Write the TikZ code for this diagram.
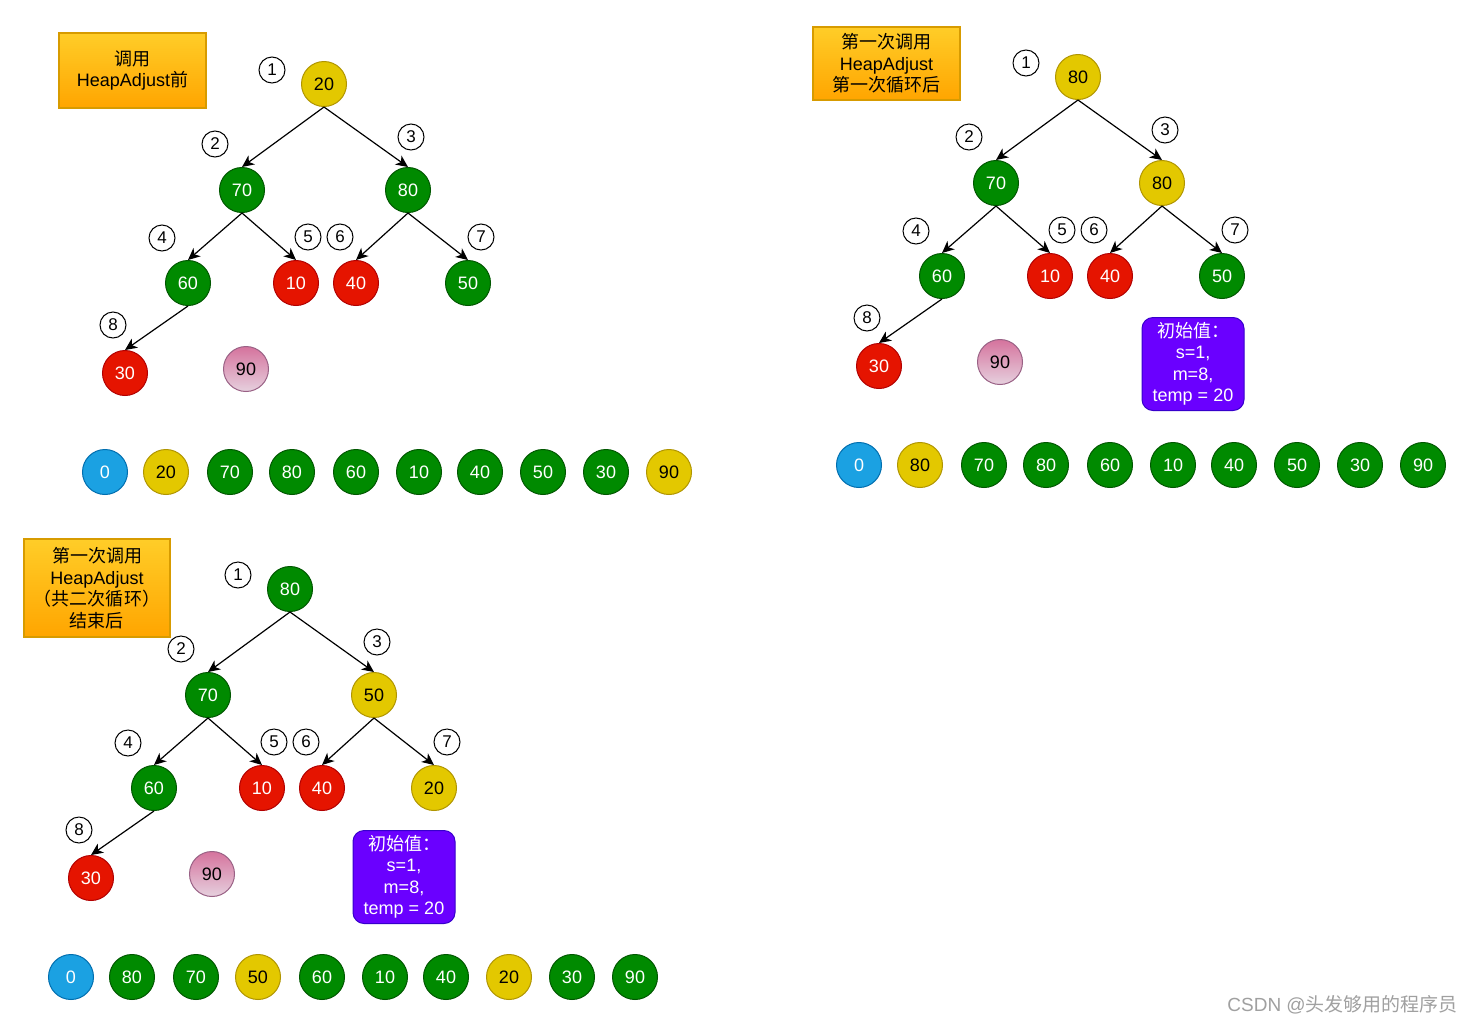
\documentclass[tikz,border=0pt]{standalone}
\usepackage{fontspec}
\setmainfont{Liberation Sans}
\newfontfamily\cjk{Noto Sans CJK SC}
\usetikzlibrary{arrows.meta,shapes.geometric}
\definecolor{dgreen}{HTML}{008A00}\definecolor{dgreenS}{HTML}{005700}
\definecolor{dred}{HTML}{E51400}\definecolor{dredS}{HTML}{B20000}
\definecolor{dyel}{HTML}{E3C800}\definecolor{dyelS}{HTML}{B09500}
\definecolor{dblue}{HTML}{1BA1E2}\definecolor{dblueS}{HTML}{006EAF}
\definecolor{pinkT}{HTML}{D5739D}\definecolor{pinkB}{HTML}{E6D0DE}\definecolor{pinkS}{HTML}{996185}
\definecolor{orT}{HTML}{FFCD28}\definecolor{orB}{HTML}{FFA500}\definecolor{orS}{HTML}{D79B00}
\definecolor{purp}{HTML}{6A00FF}\definecolor{purS}{HTML}{3700CC}
\definecolor{wmgray}{HTML}{A0A0A0}
\tikzset{
  bn/.style={circle, minimum size=45pt, inner sep=0pt, line width=1pt, font=\fontsize{18}{18}\selectfont},
  gr/.style={bn, fill=dgreen, draw=dgreenS, text=white},
  rd/.style={bn, fill=dred, draw=dredS, text=white},
  yl/.style={bn, fill=dyel, draw=dyelS, text=black},
  bl/.style={bn, fill=dblue, draw=dblueS, text=white},
  pk/.style={bn, top color=pinkT, bottom color=pinkB, draw=pinkS, text=black},
  num/.style={circle, draw=black, line width=1pt, minimum size=26pt, inner sep=0pt, font=\fontsize{17}{17}\selectfont},
  edge/.style={-{Stealth[length=12pt,width=11pt,inset=3.5pt]}, line width=1.2pt},
  lbl/.style={rectangle, top color=orT, bottom color=orB, draw=orS, line width=1.3pt, align=center, inner sep=0pt, font=\fontsize{18}{21.5}\selectfont},
  pur/.style={rectangle, rounded corners=11pt, fill=purp, draw=purS, line width=1pt, text=white, align=center, inner sep=0pt, font=\fontsize{18}{21.5}\selectfont},
}
\begin{document}
\begin{tikzpicture}[x=1pt,y=-1pt]
\useasboundingbox (0,0) rectangle (1473,1023);
\fill[white] (0,0) rectangle (1473,1023);

% ---------------- Panel A ----------------
\begin{scope}[name prefix=A-]
\node[lbl, minimum width=147pt, minimum height=75pt] (box) at (132.5,70.5) {{\cjk 调用}\\HeapAdjust{\cjk 前}};
\node[yl] (r) at (324,84) {20};
\node[gr] (L) at (242,190) {70};
\node[gr] (R) at (408,190) {80};
\node[gr] (LL) at (188,283) {60};
\node[rd] (LR) at (296,283) {10};
\node[rd] (RL) at (356,283) {40};
\node[gr] (RR) at (468,283) {50};
\node[rd] (LLL) at (125,373) {30};
\node[pk] (x) at (246,369) {90};
\node[num] (k1) at (272,70) {1};
\node[num] (k2) at (215,144) {2};
\node[num] (k3) at (411,137) {3};
\node[num] (k4) at (162,238) {4};
\node[num] (k5) at (308,237) {5};
\node[num] (k6) at (340,237) {6};
\node[num] (k7) at (481,237) {7};
\node[num] (k8) at (113,325) {8};
\draw[edge] (r.south) -- (L.north);
\draw[edge] (r.south) -- (R.north);
\draw[edge] (L.south) -- (LL.north);
\draw[edge] (L.south) -- (LR.north);
\draw[edge] (R.south) -- (RL.north);
\draw[edge] (R.south) -- (RR.north);
\draw[edge] (LL.south) -- (LLL.north);
\node[bl] (a0) at (105,472) {0};
\node[yl] (a1) at (166,472) {20};
\node[gr] (a2) at (230,472) {70};
\node[gr] (a3) at (292,472) {80};
\node[gr] (a4) at (356,472) {60};
\node[gr] (a5) at (419,472) {10};
\node[gr] (a6) at (480,472) {40};
\node[gr] (a7) at (543,472) {50};
\node[gr] (a8) at (606,472) {30};
\node[yl] (a9) at (669,472) {90};
\end{scope}

% ---------------- Panel B ----------------
\begin{scope}[shift={(754,-7)}, name prefix=B-]
\node[lbl, minimum width=147pt, minimum height=73pt] (box) at (132.5,70.5) {{\cjk 第一次调用}\\HeapAdjust\\{\cjk 第一次循环后}};
\node[yl] (r) at (324,84) {80};
\node[gr] (L) at (242,190) {70};
\node[yl] (R) at (408,190) {80};
\node[gr] (LL) at (188,283) {60};
\node[rd] (LR) at (296,283) {10};
\node[rd] (RL) at (356,283) {40};
\node[gr] (RR) at (468,283) {50};
\node[rd] (LLL) at (125,373) {30};
\node[pk] (x) at (246,369) {90};
\node[num] (k1) at (272,70) {1};
\node[num] (k2) at (215,144) {2};
\node[num] (k3) at (411,137) {3};
\node[num] (k4) at (162,238) {4};
\node[num] (k5) at (308,237) {5};
\node[num] (k6) at (340,237) {6};
\node[num] (k7) at (481,237) {7};
\node[num] (k8) at (113,325) {8};
\draw[edge] (r.south) -- (L.north);
\draw[edge] (r.south) -- (R.north);
\draw[edge] (L.south) -- (LL.north);
\draw[edge] (L.south) -- (LR.north);
\draw[edge] (R.south) -- (RL.north);
\draw[edge] (R.south) -- (RR.north);
\draw[edge] (LL.south) -- (LLL.north);
\node[pur, minimum width=102pt, minimum height=93pt] (init) at (439,371) {{\cjk 初始值：}\\s=1,\\m=8,\\temp = 20};
\node[bl] (a0) at (105,472) {0};
\node[yl] (a1) at (166,472) {80};
\node[gr] (a2) at (230,472) {70};
\node[gr] (a3) at (292,472) {80};
\node[gr] (a4) at (356,472) {60};
\node[gr] (a5) at (419,472) {10};
\node[gr] (a6) at (480,472) {40};
\node[gr] (a7) at (543,472) {50};
\node[gr] (a8) at (606,472) {30};
\node[gr] (a9) at (669,472) {90};
\end{scope}

% ---------------- Panel C ----------------
\begin{scope}[shift={(-34,505)}, name prefix=C-]
\node[lbl, minimum width=146pt, minimum height=98pt] (box) at (131,83) {{\cjk 第一次调用}\\HeapAdjust\\{\cjk （共二次循环）}\\{\cjk 结束后}};
\node[gr] (r) at (324,84) {80};
\node[gr] (L) at (242,190) {70};
\node[yl] (R) at (408,190) {50};
\node[gr] (LL) at (188,283) {60};
\node[rd] (LR) at (296,283) {10};
\node[rd] (RL) at (356,283) {40};
\node[yl] (RR) at (468,283) {20};
\node[rd] (LLL) at (125,373) {30};
\node[pk] (x) at (246,369) {90};
\node[num] (k1) at (272,70) {1};
\node[num] (k2) at (215,144) {2};
\node[num] (k3) at (411,137) {3};
\node[num] (k4) at (162,238) {4};
\node[num] (k5) at (308,237) {5};
\node[num] (k6) at (340,237) {6};
\node[num] (k7) at (481,237) {7};
\node[num] (k8) at (113,325) {8};
\draw[edge] (r.south) -- (L.north);
\draw[edge] (r.south) -- (R.north);
\draw[edge] (L.south) -- (LL.north);
\draw[edge] (L.south) -- (LR.north);
\draw[edge] (R.south) -- (RL.north);
\draw[edge] (R.south) -- (RR.north);
\draw[edge] (LL.south) -- (LLL.north);
\node[pur, minimum width=102pt, minimum height=93pt] (init) at (438,372) {{\cjk 初始值：}\\s=1,\\m=8,\\temp = 20};
\node[bl] (a0) at (105,472) {0};
\node[gr] (a1) at (166,472) {80};
\node[gr] (a2) at (230,472) {70};
\node[yl] (a3) at (292,472) {50};
\node[gr] (a4) at (356,472) {60};
\node[gr] (a5) at (419,472) {10};
\node[gr] (a6) at (480,472) {40};
\node[yl] (a7) at (543,472) {20};
\node[gr] (a8) at (606,472) {30};
\node[gr] (a9) at (669,472) {90};
\end{scope}

\node[anchor=base east, text=wmgray, inner sep=0pt, font=\fontsize{19}{19}\selectfont] (wm) at (1458,1011) {CSDN @{\cjk 头发够用的程序员}};
\end{tikzpicture}
\end{document}
